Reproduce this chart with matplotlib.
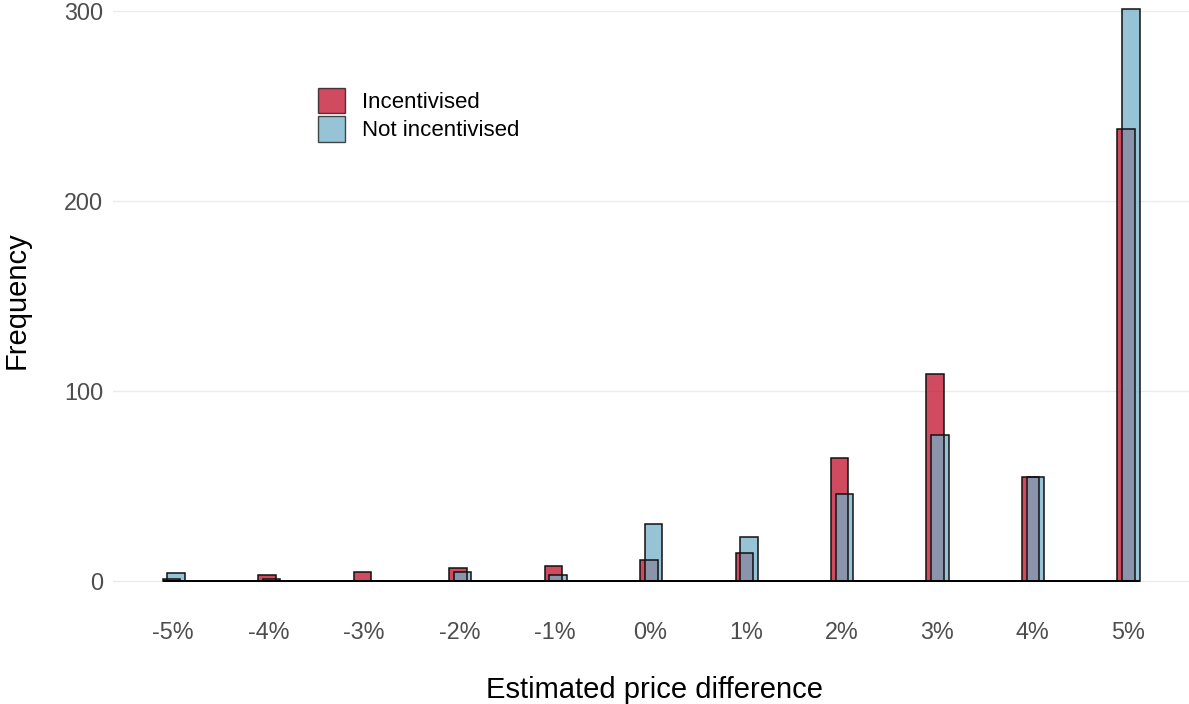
import numpy as np
import matplotlib
matplotlib.use("Agg")
import matplotlib.pyplot as plt
from matplotlib.patches import Patch

# percentage points of the estimated price difference
price_diff = [-5, -4, -3, -2, -1, 0, 1, 2, 3, 4, 5]
tick_labels = ["-5%", "-4%", "-3%", "-2%", "-1%", "0%", "1%", "2%", "3%", "4%", "5%"]

incentivised = [1, 3, 5, 7, 8, 11, 15, 65, 109, 55, 238]
not_incentivised = [4, 1, 0, 5, 3, 30, 23, 46, 77, 55, 301]

y_ticks = [0, 100, 200, 300]

red = "#C10E2B"
blue = "#73AFC7"
alpha = 0.75
bin_w = 0.183

plt.rcParams["font.family"] = ["Liberation Sans", "DejaVu Sans"]

W, H = 1189, 704
fig = plt.figure(figsize=(W / 100, H / 100), dpi=100)
ax = fig.add_axes([113 / W, 104 / H, (W - 113) / W, 600 / H])

x = np.array(price_diff, dtype=float)


def draw_hist(xc, counts, color, label):
    ax.bar(xc, counts, width=bin_w, color=color, alpha=alpha, edgecolor="none",
           label=label, zorder=2)
    ax.bar(xc, counts, width=bin_w, facecolor="none", edgecolor="#111111",
           linewidth=1.1, zorder=3)
    # empty bins show up as a flat outline along zero
    ax.hlines(0, xc.min() - bin_w / 2, xc.max() + bin_w / 2, color="black",
              linewidth=1.3, zorder=3)


draw_hist(x - 0.018, incentivised, red, "Incentivised")
draw_hist(x + 0.031, not_incentivised, blue, "Not incentivised")

ax.set_xlim(-5.63, 5.64)
ax.set_ylim(-10, 305.8)

ax.set_xticks(price_diff)
ax.set_xticklabels(tick_labels)
ax.set_yticks(y_ticks)
ax.tick_params(axis="both", length=0, labelsize=16.8, labelcolor="#4D4D4D")
ax.tick_params(axis="x", pad=15)
ax.tick_params(axis="y", pad=7)

for s in ax.spines.values():
    s.set_visible(False)
ax.grid(axis="y", color="#EBEBEB", linewidth=1.0, zorder=0)
ax.set_axisbelow(True)

ax.set_xlabel("Estimated price difference", fontsize=21, va="center")
ax.xaxis.set_label_coords((655 - 113) / (W - 113), (600 - 690) / 600)
ax.set_ylabel("Frequency", fontsize=21, va="center")
ax.yaxis.set_label_coords((17 - 113) / (W - 113), 0.5)

handles = [Patch(facecolor=red, alpha=alpha, edgecolor="#111111", linewidth=1.0),
           Patch(facecolor=blue, alpha=alpha, edgecolor="#111111", linewidth=1.0)]
ax.legend(handles, ["Incentivised", "Not incentivised"], loc="upper left",
          bbox_to_anchor=(318 / W, 1 - 88 / H), bbox_transform=fig.transFigure,
          frameon=False, fontsize=16, handlelength=1.21, handleheight=1.36,
          handletextpad=0.77, labelspacing=0.15, borderpad=0, borderaxespad=0)

fig.savefig("out.png", dpi=100)
